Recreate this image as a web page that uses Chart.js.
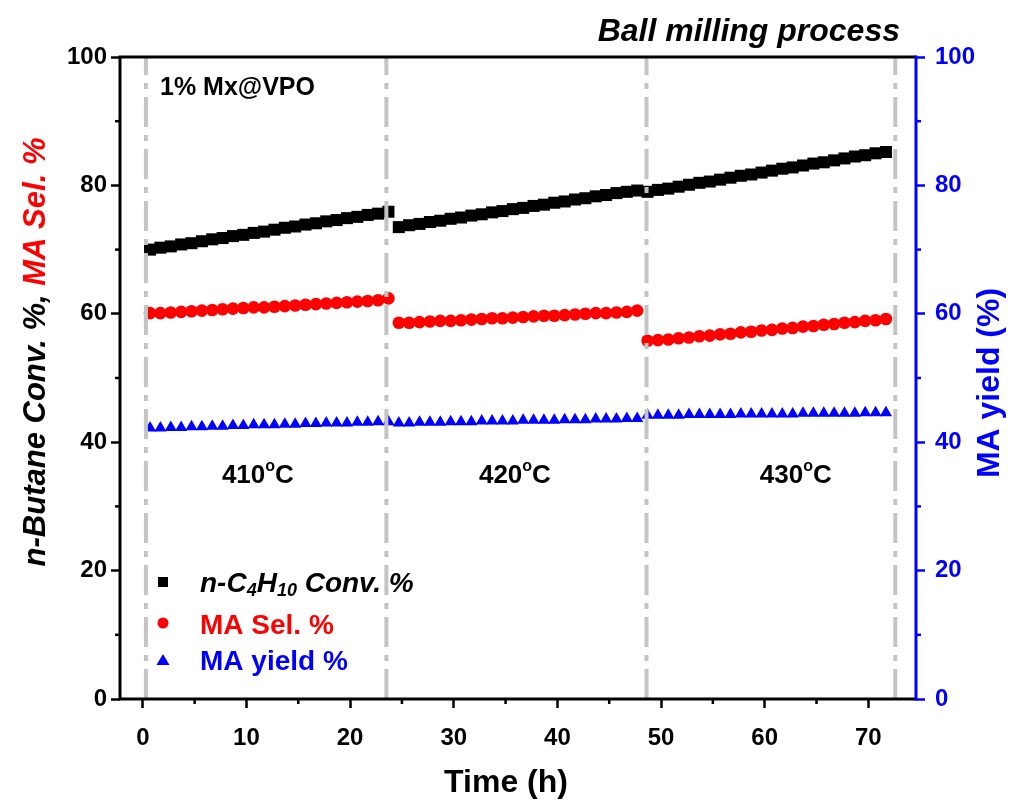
<!DOCTYPE html>
<html>
<head>
<meta charset="utf-8">
<script src="https://cdn.jsdelivr.net/npm/chart.js@4.4.1/dist/chart.umd.min.js"></script>
<style>
  html, body { margin: 0; padding: 0; background: #fff; }
  canvas { display: block; }
</style>
</head>
<body>
<canvas id="grafico" width="1019" height="807"></canvas>
<script>
// tempo de reação (h)
const horas = [
  0.7, 1.7, 2.7, 3.7, 4.7, 5.7, 6.7, 7.7, 8.7, 9.7, 10.7, 11.7,
  12.7, 13.7, 14.7, 15.7, 16.7, 17.7, 18.7, 19.7, 20.7, 21.7, 22.7, 23.7,
  24.7, 25.7, 26.7, 27.7, 28.7, 29.7, 30.7, 31.7, 32.7, 33.7, 34.7, 35.7,
  36.7, 37.7, 38.7, 39.7, 40.7, 41.7, 42.7, 43.7, 44.7, 45.7, 46.7, 47.7,
  48.7, 49.7, 50.7, 51.7, 52.7, 53.7, 54.7, 55.7, 56.7, 57.7, 58.7, 59.7,
  60.7, 61.7, 62.7, 63.7, 64.7, 65.7, 66.7, 67.7, 68.7, 69.7, 70.7, 71.7
];

// conversão do n-butano (%)
const conversao = [
  70.0, 70.3, 70.5, 70.8, 71.0, 71.3, 71.6, 71.8, 72.1, 72.3, 72.6, 72.8,
  73.1, 73.4, 73.6, 73.9, 74.1, 74.4, 74.6, 74.9, 75.1, 75.4, 75.6, 75.9,
  73.5, 73.8, 74.0, 74.3, 74.5, 74.8, 75.0, 75.3, 75.5, 75.8, 76.0, 76.3,
  76.5, 76.8, 77.0, 77.3, 77.5, 77.8, 78.0, 78.3, 78.5, 78.8, 79.0, 79.2,
  79.0, 79.3, 79.5, 79.8, 80.1, 80.4, 80.6, 80.9, 81.2, 81.5, 81.7, 82.0,
  82.3, 82.6, 82.8, 83.1, 83.4, 83.6, 83.9, 84.2, 84.5, 84.7, 85.0, 85.2
];

// seletividade a MA (%)
const seletividade = [
  60.1, 60.1, 60.2, 60.3, 60.4, 60.5, 60.6, 60.7, 60.8, 60.9, 61.0, 61.0,
  61.1, 61.2, 61.3, 61.4, 61.5, 61.6, 61.7, 61.8, 61.9, 62.0, 62.1, 62.4,
  58.6, 58.6, 58.7, 58.8, 58.9, 58.9, 59.0, 59.1, 59.2, 59.3, 59.3, 59.4,
  59.5, 59.6, 59.7, 59.7, 59.8, 59.9, 60.0, 60.1, 60.1, 60.2, 60.3, 60.5,
  55.8, 55.9, 56.0, 56.2, 56.3, 56.5, 56.6, 56.8, 56.9, 57.1, 57.2, 57.4,
  57.5, 57.7, 57.8, 58.0, 58.1, 58.3, 58.4, 58.6, 58.7, 58.9, 59.0, 59.2
];

// rendimento de MA (%)
const rendimento = [
  42.2, 42.2, 42.3, 42.3, 42.4, 42.4, 42.5, 42.5, 42.6, 42.6, 42.7, 42.7,
  42.7, 42.8, 42.8, 42.9, 42.9, 43.0, 43.0, 43.0, 43.1, 43.1, 43.2, 43.2,
  43.0, 43.0, 43.1, 43.1, 43.1, 43.2, 43.2, 43.2, 43.3, 43.3, 43.3, 43.3,
  43.4, 43.4, 43.4, 43.4, 43.5, 43.5, 43.5, 43.6, 43.6, 43.6, 43.7, 43.7,
  44.2, 44.2, 44.2, 44.2, 44.3, 44.3, 44.3, 44.3, 44.3, 44.4, 44.4, 44.4,
  44.4, 44.4, 44.4, 44.5, 44.5, 44.5, 44.5, 44.5, 44.5, 44.6, 44.6, 44.6
];

// mudanças de temperatura (h)
const divisorias = [0.3, 23.5, 48.6, 72.6];
const temperaturas = ['410', '420', '430'];

const ticksX = [0, 10, 20, 30, 40, 50, 60, 70];
const ticksY = [0, 20, 40, 60, 80, 100];
const menoresX = [5, 15, 25, 35, 45, 55, 65];
const menoresY = [10, 30, 50, 70, 90];

const FONTE = "'Liberation Sans', Arial, sans-serif";
const AZUL = '#0000ff';
const VERMELHO = '#ff0000';

function pontos(valores) {
  return horas.map((h, i) => ({ x: h, y: valores[i] }));
}

// escreve um texto em partes (cores, sub/sobrescritos)
function escreverPartes(ctx, partes, x, y, alinhar) {
  let total = 0;
  partes.forEach(p => { ctx.font = p.fonte; total += ctx.measureText(p.texto).width; });
  let cx = x;
  if (alinhar === 'center') cx = x - total / 2;
  if (alinhar === 'right') cx = x - total;
  ctx.textAlign = 'left';
  ctx.textBaseline = 'middle';
  partes.forEach(p => {
    ctx.font = p.fonte;
    ctx.fillStyle = p.cor;
    ctx.fillText(p.texto, cx, y + (p.dy || 0));
    cx += ctx.measureText(p.texto).width;
  });
}

const extras = {
  id: 'extras',
  beforeDraw(chart) {
    const ctx = chart.ctx;
    ctx.save();
    ctx.fillStyle = '#fff';
    ctx.fillRect(0, 0, chart.width, chart.height);
    ctx.restore();
  },
  afterDraw(chart) {
    const ctx = chart.ctx;
    const a = chart.chartArea;
    const sx = chart.scales.x;
    const sy = chart.scales.y;
    ctx.save();

    // moldura
    ctx.lineWidth = 3;
    ctx.strokeStyle = '#000';
    ctx.beginPath();
    ctx.moveTo(a.right, a.top); ctx.lineTo(a.left, a.top);
    ctx.lineTo(a.left, a.bottom); ctx.lineTo(a.right, a.bottom);
    ctx.stroke();
    ctx.strokeStyle = AZUL;
    ctx.beginPath();
    ctx.moveTo(a.right, a.top - 1.5); ctx.lineTo(a.right, a.bottom + 1.5);
    ctx.stroke();

    // ticks menores
    ctx.lineWidth = 2.5;
    ctx.strokeStyle = '#000';
    menoresX.forEach(v => {
      const px = sx.getPixelForValue(v);
      ctx.beginPath(); ctx.moveTo(px, a.bottom); ctx.lineTo(px, a.bottom + 5); ctx.stroke();
    });
    menoresY.forEach(v => {
      const py = sy.getPixelForValue(v);
      ctx.strokeStyle = '#000';
      ctx.beginPath(); ctx.moveTo(a.left, py); ctx.lineTo(a.left - 5, py); ctx.stroke();
      ctx.strokeStyle = AZUL;
      ctx.beginPath(); ctx.moveTo(a.right, py); ctx.lineTo(a.right + 5, py); ctx.stroke();
    });

    const negrito = s => 'bold ' + s + 'px ' + FONTE;
    const italico = s => 'italic bold ' + s + 'px ' + FONTE;

    // títulos dos eixos
    escreverPartes(ctx, [{ texto: 'Time (h)', fonte: negrito(32), cor: '#000' }],
      506, 783, 'center');

    ctx.save();
    ctx.translate(36, 352);
    ctx.rotate(-Math.PI / 2);
    escreverPartes(ctx, [
      { texto: 'n-Butane Conv. %, ', fonte: italico(31), cor: '#000' },
      { texto: 'MA Sel. %', fonte: italico(31), cor: VERMELHO }
    ], 0, 0, 'center');
    ctx.restore();

    ctx.save();
    ctx.translate(990, 383);
    ctx.rotate(-Math.PI / 2);
    escreverPartes(ctx, [{ texto: 'MA yield (%)', fonte: negrito(32), cor: AZUL }], 0, 0, 'center');
    ctx.restore();

    // anotações
    escreverPartes(ctx, [{ texto: 'Ball milling process', fonte: italico(32), cor: '#000' }],
      900, 32, 'right');
    escreverPartes(ctx, [{ texto: '1% Mx@VPO', fonte: negrito(25), cor: '#000' }],
      160, 88, 'left');

    const posTemp = [11.1, 35.9, 63.0];
    temperaturas.forEach((t, i) => {
      escreverPartes(ctx, [
        { texto: t, fonte: negrito(26), cor: '#000' },
        { texto: 'o', fonte: negrito(16), cor: '#000', dy: -9 },
        { texto: 'C', fonte: negrito(26), cor: '#000' }
      ], sx.getPixelForValue(posTemp[i]), 476, 'center');
    });

    // legenda
    ctx.fillStyle = '#000';
    ctx.fillRect(158, 577, 10, 10);
    ctx.fillStyle = VERMELHO;
    ctx.beginPath(); ctx.arc(163, 623, 5.5, 0, Math.PI * 2); ctx.fill();
    ctx.fillStyle = AZUL;
    ctx.beginPath();
    ctx.moveTo(163, 654); ctx.lineTo(169.5, 665); ctx.lineTo(156.5, 665); ctx.closePath(); ctx.fill();

    escreverPartes(ctx, [
      { texto: 'n-C', fonte: italico(28), cor: '#000' },
      { texto: '4', fonte: italico(18), cor: '#000', dy: 7 },
      { texto: 'H', fonte: italico(28), cor: '#000' },
      { texto: '10', fonte: italico(18), cor: '#000', dy: 7 },
      { texto: ' Conv. %', fonte: italico(28), cor: '#000' }
    ], 200, 584, 'left');
    escreverPartes(ctx, [{ texto: 'MA Sel. %', fonte: negrito(28), cor: VERMELHO }], 200, 626, 'left');
    escreverPartes(ctx, [{ texto: 'MA yield %', fonte: negrito(28), cor: AZUL }], 200, 662, 'left');

    ctx.restore();
  }
};

const linhasDivisorias = divisorias.map(d => ({
  type: 'line',
  data: [{ x: d, y: 0 }, { x: d, y: 100 }],
  borderColor: '#c4c4c4',
  borderWidth: 4,
  borderDash: [30, 8, 6, 8],
  pointRadius: 0,
  yAxisID: 'y'
}));

new Chart(document.getElementById('grafico'), {
  type: 'scatter',
  data: {
    datasets: [
      ...linhasDivisorias,
      {
        label: 'n-C4H10 Conv. %',
        data: pontos(conversao),
        pointStyle: 'rect',
        pointRadius: 8.5,
        backgroundColor: '#000',
        borderWidth: 0,
        yAxisID: 'y'
      },
      {
        label: 'MA Sel. %',
        data: pontos(seletividade),
        pointStyle: 'circle',
        pointRadius: 6.3,
        backgroundColor: VERMELHO,
        borderWidth: 0,
        yAxisID: 'y'
      },
      {
        label: 'MA yield %',
        data: pontos(rendimento),
        pointStyle: 'triangle',
        pointRadius: 7,
        backgroundColor: AZUL,
        borderWidth: 0,
        yAxisID: 'y2'
      }
    ]
  },
  options: {
    responsive: false,
    animation: false,
    layout: { padding: { top: 57, left: 0, right: 0, bottom: 0 } },
    plugins: { legend: { display: false }, tooltip: { enabled: false } },
    elements: { line: { tension: 0 } },
    scales: {
      x: {
        type: 'linear',
        min: -2.2,
        max: 74.6,
        afterBuildTicks: s => { s.ticks = ticksX.map(v => ({ value: v })); },
        afterFit: s => { s.height = 108; },
        grid: { drawOnChartArea: false, tickLength: 9, tickWidth: 2.5, tickColor: '#000' },
        border: { display: false },
        ticks: { color: '#000', padding: 16, font: { family: FONTE, size: 24, weight: 'bold' } }
      },
      y: {
        position: 'left',
        min: 0,
        max: 100,
        afterBuildTicks: s => { s.ticks = ticksY.map(v => ({ value: v })); },
        afterFit: s => { s.width = 120; },
        grid: { drawOnChartArea: false, tickLength: 9, tickWidth: 2.5, tickColor: '#000' },
        border: { display: false },
        ticks: { color: '#000', padding: 4, font: { family: FONTE, size: 24, weight: 'bold' } }
      },
      y2: {
        position: 'right',
        min: 0,
        max: 100,
        afterBuildTicks: s => { s.ticks = ticksY.map(v => ({ value: v })); },
        afterFit: s => { s.width = 103; },
        grid: { drawOnChartArea: false, tickLength: 9, tickWidth: 2.5, tickColor: AZUL },
        border: { display: false },
        ticks: { color: AZUL, padding: 10, font: { family: FONTE, size: 24, weight: 'bold' } }
      }
    }
  },
  plugins: [extras]
});
</script>
</body>
</html>
